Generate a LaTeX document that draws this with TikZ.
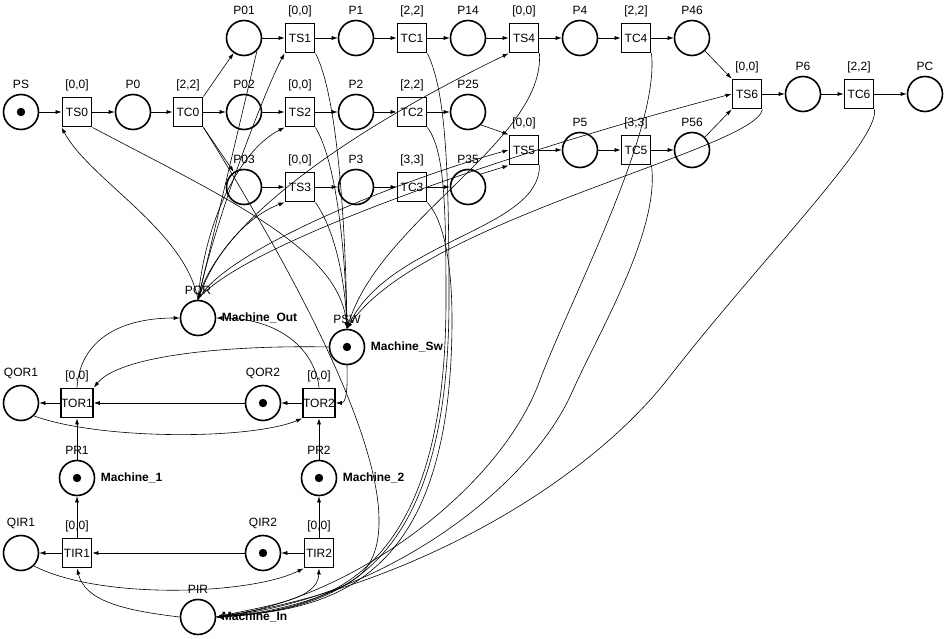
\documentclass[tikz,border=0pt]{standalone}
\usepackage{fontspec}
\setmainfont{Liberation Sans}
\usepackage{tikz}
\usetikzlibrary{arrows.meta}

\tikzset{
  place/.style={circle,draw,line width=1.6pt,minimum size=35pt,inner sep=0pt},
  marked/.style={place,path picture={\fill (path picture bounding box.center) circle (4.2pt);}},
  trans/.style={rectangle,draw,line width=1.9pt,minimum size=29pt,inner sep=0pt},
  arc/.style={-{Latex[length=6pt,width=4pt]},line width=0.6pt},
  mach/.style={font=\large\bfseries}
}

\begin{document}
\begin{tikzpicture}[x=1pt,y=-1pt,font=\large,label distance=2pt]
\useasboundingbox (0,0) rectangle (946,639);
% places of the process
\node[marked,label=above:PS] (PS) at (21,112) {};
\node[place,label=above:P0] (P0) at (133,112) {};
\node[place,label=above:P01] (P01) at (244,38) {};
\node[place,label=above:P02] (P02) at (244,112) {};
\node[place,label=above:P03] (P03) at (244,187) {};
\node[place,label=above:P1] (P1) at (356,38) {};
\node[place,label=above:P2] (P2) at (356,112) {};
\node[place,label=above:P3] (P3) at (356,187) {};
\node[place,label=above:P14] (P14) at (468,38) {};
\node[place,label=above:P25] (P25) at (468,112) {};
\node[place,label=above:P35] (P35) at (468,187) {};
\node[place,label=above:P4] (P4) at (580,38) {};
\node[place,label=above:P46] (P46) at (692,38) {};
\node[place,label=above:P5] (P5) at (580,150) {};
\node[place,label=above:P56] (P56) at (692,150) {};
\node[place,label=above:P6] (P6) at (803,94) {};
\node[place,label=above:PC] (PC) at (925,94) {};
% transitions of the process
\node[trans,label=above:{[0,0]}] (TS0) at (77,112) {TS0};
\node[trans,label=above:{[2,2]}] (TC0) at (188,112) {TC0};
\node[trans,label=above:{[0,0]}] (TS1) at (300,38) {TS1};
\node[trans,label=above:{[2,2]}] (TC1) at (412,38) {TC1};
\node[trans,label=above:{[0,0]}] (TS2) at (300,112) {TS2};
\node[trans,label=above:{[2,2]}] (TC2) at (412,112) {TC2};
\node[trans,label=above:{[0,0]}] (TS3) at (300,187) {TS3};
\node[trans,label=above:{[3,3]}] (TC3) at (412,187) {TC3};
\node[trans,label=above:{[0,0]}] (TS4) at (524,38) {TS4};
\node[trans,label=above:{[2,2]}] (TC4) at (636,38) {TC4};
\node[trans,label=above:{[0,0]}] (TS5) at (524,150) {TS5};
\node[trans,label=above:{[3,3]}] (TC5) at (636,150) {TC5};
\node[trans,label=above:{[0,0]}] (TS6) at (747,94) {TS6};
\node[trans,label=above:{[2,2]}] (TC6) at (859,94) {TC6};
% machine part
\node[place,label=above:POR,label={[mach]right:Machine\_Out}] (POR) at (198,318) {};
\node[marked,label=above:PSW,label={[mach]right:Machine\_Sw}] (PSW) at (347,347) {};
\node[place,label=above:QOR1] (QOR1) at (21,403) {};
\node[trans,label=above:{[0,0]}] (TOR1) at (77,403) {TOR1};
\node[marked,label=above:QOR2] (QOR2) at (263,403) {};
\node[trans,label=above:{[0,0]}] (TOR2) at (319,403) {TOR2};
\node[marked,label=above:PR1,label={[mach]right:Machine\_1}] (PR1) at (77,478) {};
\node[marked,label=above:PR2,label={[mach]right:Machine\_2}] (PR2) at (319,478) {};
\node[place,label=above:QIR1] (QIR1) at (21,553) {};
\node[trans,label=above:{[0,0]}] (TIR1) at (77,553) {TIR1};
\node[marked,label=above:QIR2] (QIR2) at (263,553) {};
\node[trans,label=above:{[0,0]}] (TIR2) at (319,553) {TIR2};
\node[place,label=above:PIR,label={[mach]right:Machine\_In}] (PIR) at (198,617) {};

% straight arcs
\draw[arc] (PS)--(TS0);
\draw[arc] (TS0)--(P0);
\draw[arc] (P0)--(TC0);
\draw[arc] (TC0)--(P02);
\draw[arc] (TC0.north east)--(P01);
\draw[arc] (TC0.south east)--(P03);
\draw[arc] (P01)--(TS1);
\draw[arc] (TS1)--(P1);
\draw[arc] (P1)--(TC1);
\draw[arc] (TC1)--(P14);
\draw[arc] (P02)--(TS2);
\draw[arc] (TS2)--(P2);
\draw[arc] (P2)--(TC2);
\draw[arc] (TC2)--(P25);
\draw[arc] (P03)--(TS3);
\draw[arc] (TS3)--(P3);
\draw[arc] (P3)--(TC3);
\draw[arc] (TC3)--(P35);
\draw[arc] (P14)--(TS4);
\draw[arc] (TS4)--(P4);
\draw[arc] (P4)--(TC4);
\draw[arc] (TC4)--(P46);
\draw[arc] (P25.south east)--(TS5.north west);
\draw[arc] (P35.north east)--(TS5.south west);
\draw[arc] (TS5)--(P5);
\draw[arc] (P5)--(TC5);
\draw[arc] (TC5)--(P56);
\draw[arc] (P46.south east)--(TS6.north west);
\draw[arc] (P56.north east)--(TS6.south west);
\draw[arc] (TS6)--(P6);
\draw[arc] (P6)--(TC6);
\draw[arc] (TC6)--(PC);
\draw[arc] (TOR1)--(QOR1);
\draw[arc] (QOR2)--(TOR1);
\draw[arc] (TOR2)--(QOR2);
\draw[arc] (PR1)--(TOR1);
\draw[arc] (PR2)--(TOR2);
\draw[arc] (TIR1)--(QIR1);
\draw[arc] (QIR2)--(TIR1);
\draw[arc] (TIR2)--(QIR2);
\draw[arc] (TIR1)--(PR1);
\draw[arc] (TIR2)--(PR2);

% Machine_Out to the switch transitions
\draw[arc] (P01.south east)--(POR.north);
\draw[arc] (POR.north) .. controls (185,230) and (90,180) .. (TS0.south west);
\draw[arc] (POR.north) .. controls (215,220) and (265,90) .. (TS1.south west);
\draw[arc] (POR.north) .. controls (205,220) and (240,150) .. (TS2.south west);
\draw[arc] (POR.north) .. controls (215,250) and (250,215) .. (TS3.south west);
\draw[arc] (POR.north) .. controls (215,230) and (330,140) .. (TS4.south west);
\draw[arc] (POR.north) .. controls (225,250) and (400,180) .. (TS5.west);
\draw[arc] (POR.north) .. controls (235,250) and (480,160) .. (TS6.west);

% switch transitions to Machine_Sw
\draw[arc] (TS0.south east) .. controls (230,200) and (340,250) .. (PSW.north);
\draw[arc] (TS1.south east) .. controls (335,90) and (345,200) .. (PSW.north);
\draw[arc] (TS2.south east) .. controls (335,160) and (345,240) .. (PSW.north);
\draw[arc] (TS3.south east) .. controls (335,230) and (345,280) .. (PSW.north);
\draw[arc] (TS4.south east) .. controls (545,140) and (380,220) .. (PSW.north);
\draw[arc] (TS5.south east) .. controls (540,230) and (390,240) .. (PSW.north);
\draw[arc] (TS6.south east) .. controls (755,150) and (420,220) .. (PSW.north);

% operations back to Machine_In
\draw[arc] (TC0.south east) .. controls (330,330) and (420,520) .. (360,575) .. controls (330,600) and (260,615) .. (PIR.east);
\draw[arc] (TC1.south east) .. controls (445,90) and (449,160) .. (449,300) .. controls (449,580) and (330,610) .. (PIR.east);
\draw[arc] (TC2.south east) .. controls (444,150) and (446,200) .. (446,300) .. controls (446,575) and (330,610) .. (PIR.east);
\draw[arc] (TC3.south east) .. controls (443,220) and (452,260) .. (452,320) .. controls (452,585) and (330,610) .. (PIR.east);
\draw[arc] (TC4.south east) .. controls (660,130) and (570,300) .. (540,380) .. controls (500,490) and (350,600) .. (PIR.east);
\draw[arc] (TC5.south east) .. controls (660,230) and (600,330) .. (573,390) .. controls (530,490) and (380,600) .. (PIR.east);
\draw[arc] (TC6.south east) .. controls (880,140) and (760,260) .. (667,380) .. controls (580,490) and (400,590) .. (PIR.east);

% machine loops
\draw[arc] (PSW.west) .. controls (230,345) and (120,355) .. (TOR1.north east);
\draw[arc] (PSW.south) .. controls (348,395) and (345,403) .. (TOR2.east);
\draw[arc] (TOR1.north) .. controls (80,340) and (120,318) .. (POR.west);
\draw[arc] (TOR2.north) .. controls (315,350) and (280,318) .. (POR.east);
\draw[arc] (QOR1.south east) .. controls (100,440) and (250,440) .. (TOR2.south west);
\draw[arc] (QIR1.south east) .. controls (100,600) and (250,595) .. (TIR2.south west);
\draw[arc] (PIR.west) .. controls (120,610) and (85,600) .. (TIR1.south);
\draw[arc] (PIR.east) .. controls (270,605) and (318,600) .. (TIR2.south);
\end{tikzpicture}
\end{document}
